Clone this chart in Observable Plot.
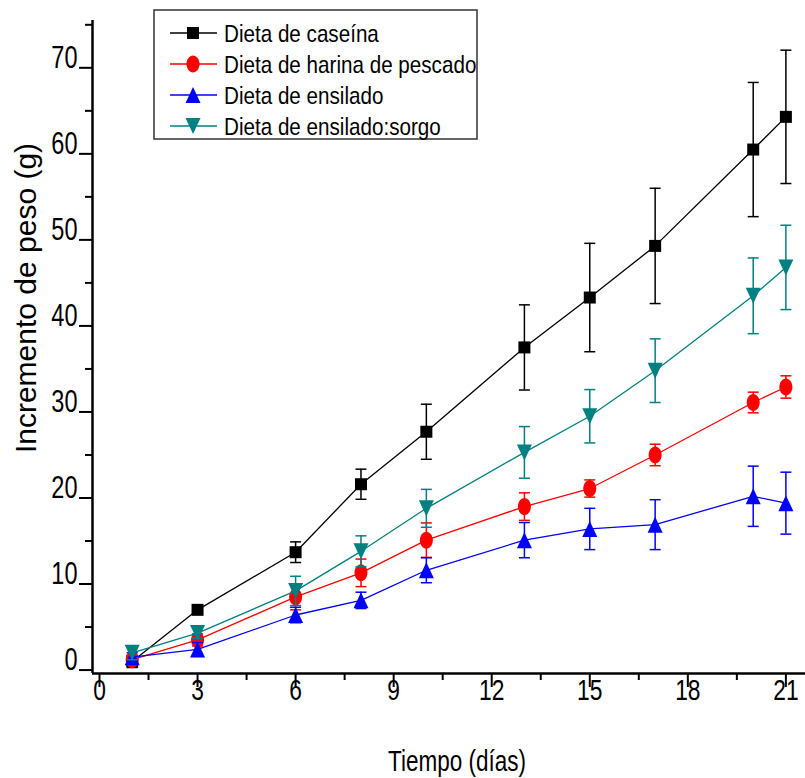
<!DOCTYPE html>
<html><head><meta charset="utf-8">
<script src="https://cdn.jsdelivr.net/npm/d3@7"></script>
<script src="https://cdn.jsdelivr.net/npm/@observablehq/plot@0.6"></script>
<style>body{margin:0;background:#fff}#chart{width:805px;height:778px}</style>
</head><body><div id="chart"></div>
<script>
// ---- data ----
const days = [1, 3, 6, 8, 10, 13, 15, 17, 20, 21];
const seriesNames = ["Dieta de caseína", "Dieta de harina de pescado", "Dieta de ensilado", "Dieta de ensilado:sorgo"];
const seriesColors = ["#000000", "#ff0000", "#0000ff", "#008080"];
const caseina     = [1.0, 7.0, 13.7, 21.6, 27.7, 37.5, 43.3, 49.3, 60.5, 64.3];
const caseinaErr  = [0.7, 0.4, 1.2, 1.75, 3.2, 4.95, 6.3, 6.7, 7.8, 7.75];
const harina      = [1.2, 3.5, 8.5, 11.3, 15.1, 19.0, 21.1, 25.0, 31.1, 32.9];
const harinaErr   = [0.5, 0.7, 1.5, 1.6, 2.0, 1.6, 1.0, 1.25, 1.2, 1.3];
const ensilado    = [1.5, 2.4, 6.4, 8.1, 11.6, 15.1, 16.4, 16.9, 20.2, 19.4];
const ensiladoErr = [0.5, 0.8, 0.9, 0.95, 1.45, 2.05, 2.4, 2.9, 3.5, 3.6];
const sorgo       = [2.0, 4.3, 9.2, 13.8, 18.8, 25.3, 29.5, 34.8, 43.5, 46.8];
const sorgoErr    = [0.8, 0.6, 1.7, 1.8, 2.2, 3.0, 3.1, 3.7, 4.4, 4.9];
const xMajorTicks = [0, 3, 6, 9, 12, 15, 18, 21];
const xMinorTicks = [1.5, 4.5, 7.5, 10.5, 13.5, 16.5, 19.5];
const yMajorTicks = [0, 10, 20, 30, 40, 50, 60, 70];
const yMinorTicks = [5, 15, 25, 35, 45, 55, 65, 75];
const xTitle = "Tiempo (días)";
const yTitle = "Incremento de peso (g)";

const seriesValues = [caseina, harina, ensilado, sorgo];
const seriesErrors = [caseinaErr, harinaErr, ensiladoErr, sorgoErr];

// ---- symbols ----
const symSquare = {draw(c){c.moveTo(-6,-6);c.lineTo(6,-6);c.lineTo(6,6);c.lineTo(-6,6);c.closePath();}};
const symEllipse = {draw(c){const rx=6.5, ry=8.5, k=0.5523;
  c.moveTo(rx,0);
  c.bezierCurveTo(rx,ry*k,rx*k,ry,0,ry);
  c.bezierCurveTo(-rx*k,ry,-rx,ry*k,-rx,0);
  c.bezierCurveTo(-rx,-ry*k,-rx*k,-ry,0,-ry);
  c.bezierCurveTo(rx*k,-ry,rx,-ry*k,rx,0);
  c.closePath();}};
const symUp = {draw(c){c.moveTo(0,-8);c.lineTo(7.5,8);c.lineTo(-7.5,8);c.closePath();}};
const symDown = {draw(c){c.moveTo(0,8);c.lineTo(7.5,-8);c.lineTo(-7.5,-8);c.closePath();}};
const symCap = {draw(c){c.moveTo(-5.5,0);c.lineTo(5.5,0);}};
const seriesSymbols = [symSquare, symEllipse, symUp, symDown];

const xDomain = [-0.214, 21.6];
const yDomain = [-0.4, 75.5];

const marks = [];
seriesNames.forEach((name, s) => {
  const data = days.map((d, i) => ({day: d, value: seriesValues[s][i],
    lo: seriesValues[s][i] - seriesErrors[s][i], hi: seriesValues[s][i] + seriesErrors[s][i]}));
  const col = seriesColors[s];
  marks.push(
    Plot.line(data, {x: "day", y: "value", stroke: col, strokeWidth: 1.3}),
    Plot.ruleX(data, {x: "day", y1: "lo", y2: "hi", stroke: col, strokeWidth: 1.5}),
    Plot.dot(data, {x: "day", y: "hi", symbol: symCap, stroke: col, fill: "none", strokeWidth: 1.5}),
    Plot.dot(data, {x: "day", y: "lo", symbol: symCap, stroke: col, fill: "none", strokeWidth: 1.5}),
    Plot.dot(data, {x: "day", y: "value", symbol: seriesSymbols[s], fill: col, stroke: "none"})
  );
});

const fontFamily = "'Liberation Sans', Arial, sans-serif";
const svg = Plot.plot({
  width: 805, height: 778,
  marginLeft: 92, marginRight: 0, marginTop: 20, marginBottom: 105,
  style: {fontFamily, background: "#fff", color: "#000"},
  x: {domain: xDomain},
  y: {domain: yDomain},
  marks: [
    Plot.axisY({ticks: yMinorTicks, tickSize: 7, tickFormat: () => "", label: null, strokeWidth: 2}),
    Plot.axisY({ticks: yMajorTicks, tickSize: 13, tickPadding: 2, fontSize: 31, label: null, strokeWidth: 2}),
    Plot.axisX({ticks: xMinorTicks, tickSize: 7, tickFormat: () => "", label: null, strokeWidth: 2}),
    Plot.axisX({ticks: xMajorTicks, tickSize: 14, tickPadding: 12, fontSize: 30, label: null, strokeWidth: 2}),
    Plot.ruleX([xDomain[0]], {strokeWidth: 2.5}),
    Plot.ruleY([yDomain[0]], {strokeWidth: 2.5}),
    ...marks
  ]
});

function squeeze(sel, sx) {
  sel.each(function() {
    const t = d3.select(this);
    const tr = t.attr("transform") || "";
    const x = +t.attr("x") || 0, y = +t.attr("y") || 0;
    t.attr("x", null).attr("y", null).attr("transform", `${tr} translate(${x},${y}) scale(${sx},1)`);
  });
}
const root = d3.select(svg);
squeeze(root.selectAll('g[aria-label="x-axis tick label"] text'), 0.76);
squeeze(root.selectAll('g[aria-label="y-axis tick label"] text'), 0.76);

// axis titles
root.append("text").attr("transform", "translate(457,771) scale(0.75,1)")
  .attr("text-anchor", "middle").attr("font-size", 30).attr("font-family", fontFamily).attr("fill", "#000").text(xTitle);
root.append("text").attr("transform", "translate(36,298) rotate(-90)")
  .attr("text-anchor", "middle").attr("font-size", 30).attr("font-family", fontFamily).attr("fill", "#000").text(yTitle);

// legend
const lg = root.append("g");
lg.append("rect").attr("x", 154).attr("y", 10).attr("width", 323).attr("height", 129)
  .attr("fill", "#fff").attr("stroke", "#333").attr("stroke-width", 1.5);
seriesNames.forEach((n, i) => {
  const cy = 33 + 31 * i;
  lg.append("line").attr("x1", 170).attr("x2", 217).attr("y1", cy).attr("y2", cy)
    .attr("stroke", seriesColors[i]).attr("stroke-width", 1.3);
  const p = d3.path(); seriesSymbols[i].draw(p);
  lg.append("path").attr("d", p.toString()).attr("transform", `translate(193,${cy})`).attr("fill", seriesColors[i]);
  lg.append("text").attr("transform", `translate(224,${cy + 8.5}) scale(0.86,1)`)
    .attr("text-anchor", "start").attr("font-size", 24).attr("font-family", fontFamily).attr("fill", "#000").text(n);
});

document.getElementById("chart").appendChild(svg);
</script>
</body></html>
